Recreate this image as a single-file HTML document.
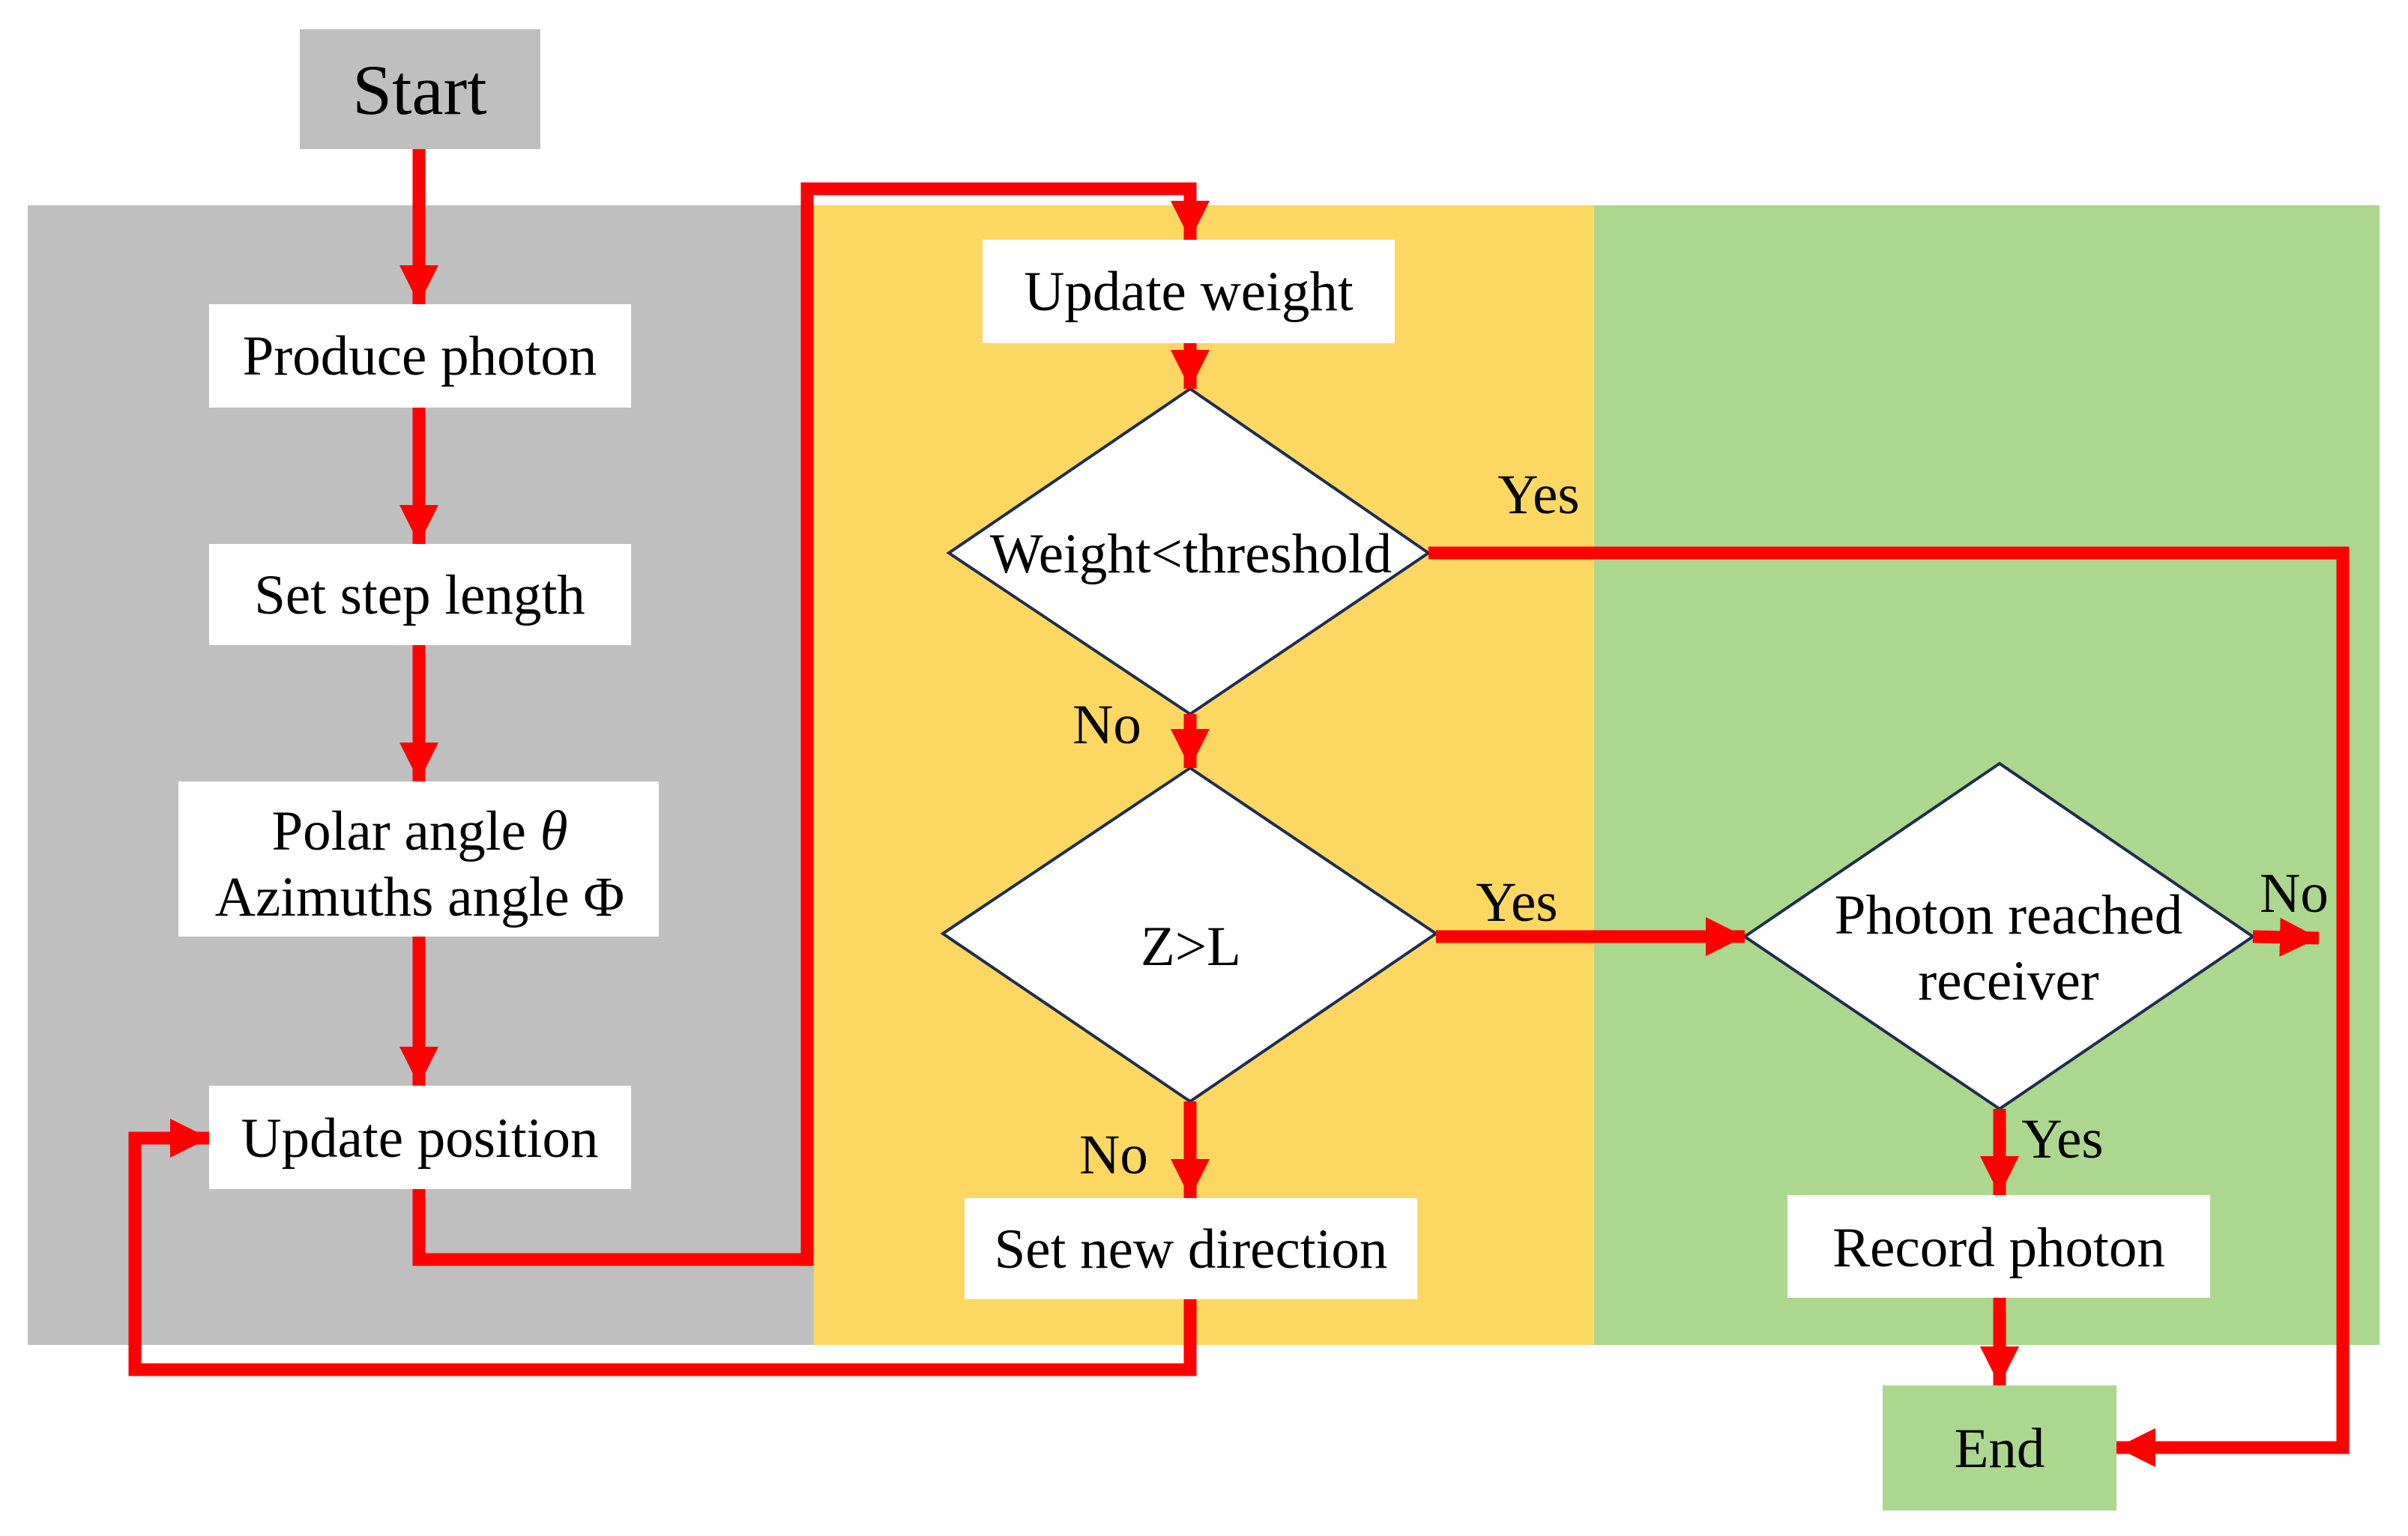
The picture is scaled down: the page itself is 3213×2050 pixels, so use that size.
<!DOCTYPE html>
<html><head><meta charset="utf-8"><style>
html,body{margin:0;padding:0;background:#fff;}
svg{display:block;}
text{font-family:"Liberation Serif",serif;fill:#000;}
</style></head><body>
<svg width="3213" height="2050" viewBox="0 0 3213 2050" xmlns="http://www.w3.org/2000/svg">
<defs>
<marker id="ah" markerUnits="userSpaceOnUse" markerWidth="54" markerHeight="52" refX="52" refY="26" orient="auto">
<path d="M0,0 L52,26 L0,52 Z" fill="#ff0000"/>
</marker>
</defs>
<rect x="37" y="274" width="1050" height="1521" fill="#bfbfbf"/>
<rect x="1086" y="274" width="1042" height="1521" fill="#fcd862"/>
<rect x="2127" y="274" width="1048" height="1521" fill="#acd78f"/>
<rect x="400" y="39" width="321" height="160" fill="#bfbfbf"/>
<text x="560" y="152" font-size="95" text-anchor="middle">Start</text>
<rect x="2512" y="1849" width="312" height="167" fill="#acd78f"/>
<text x="2668" y="1958" font-size="75" text-anchor="middle">End</text>
<g fill="#fff">
<rect x="279" y="406" width="563" height="138"/>
<rect x="279" y="726" width="563" height="135"/>
<rect x="238" y="1043" width="641" height="207"/>
<rect x="279" y="1449" width="563" height="138"/>
<rect x="1311" y="320" width="550" height="138"/>
<rect x="1287" y="1599" width="604" height="135"/>
<rect x="2385" y="1595" width="564" height="137"/>
</g>
<g font-size="75" text-anchor="middle">
<text x="560" y="500">Produce photon</text>
<text x="560" y="819">Set step length</text>
<text x="560" y="1134">Polar angle <tspan font-style="italic">θ</tspan></text>
<text x="560" y="1222">Azimuths angle Φ</text>
<text x="560" y="1544">Update position</text>
<text x="1586" y="414">Update weight</text>
<text x="1589" y="1692">Set new direction</text>
<text x="2667" y="1690">Record photon</text>
</g>
<g fill="#fff" stroke="#1f2d50" stroke-width="4">
<polygon points="1588,519 1906,738 1588,953 1266,738"/>
<polygon points="1588,1025 1916,1246 1588,1470 1258,1246"/>
<polygon points="2668,1019 3006,1250 2668,1480 2328,1250"/>
</g>
<g font-size="75" text-anchor="middle">
<text x="1589" y="764">Weight&lt;threshold</text>
<text x="1589" y="1288">Z&gt;L</text>
<text x="2680" y="1246">Photon reached</text>
<text x="2680" y="1334">receiver</text>
</g>
<g stroke="#ff0000" stroke-width="17" fill="none" stroke-linejoin="miter">
<line x1="559" y1="199" x2="559" y2="406" marker-end="url(#ah)"/>
<line x1="559" y1="544" x2="559" y2="726" marker-end="url(#ah)"/>
<line x1="559" y1="861" x2="559" y2="1043" marker-end="url(#ah)"/>
<line x1="559" y1="1250" x2="559" y2="1449" marker-end="url(#ah)"/>
<polyline points="559,1587 559,1681 1077,1681 1077,252 1588,252 1588,320" marker-end="url(#ah)"/>
<line x1="1588" y1="458" x2="1588" y2="519" marker-end="url(#ah)"/>
<polyline points="1906,738 3126,738 3126,1932 2824,1932" marker-end="url(#ah)"/>
<line x1="1588" y1="953" x2="1588" y2="1025" marker-end="url(#ah)"/>
<line x1="1588" y1="1470" x2="1588" y2="1599" marker-end="url(#ah)"/>
<polyline points="1588,1734 1588,1828 180,1828 180,1519 279,1519" marker-end="url(#ah)"/>
<line x1="1916" y1="1250" x2="2328" y2="1250" marker-end="url(#ah)"/>
<line x1="3006" y1="1250" x2="3094" y2="1252" marker-end="url(#ah)"/>
<line x1="2668" y1="1480" x2="2668" y2="1595" marker-end="url(#ah)"/>
<line x1="2668" y1="1732" x2="2668" y2="1849" marker-end="url(#ah)"/>
</g>
<g font-size="75" text-anchor="middle">
<text x="2053" y="685">Yes</text>
<text x="1477" y="992">No</text>
<text x="2024" y="1229">Yes</text>
<text x="1486" y="1566">No</text>
<text x="3061" y="1217">No</text>
<text x="2752" y="1545">Yes</text>
</g>
</svg>
</body></html>
